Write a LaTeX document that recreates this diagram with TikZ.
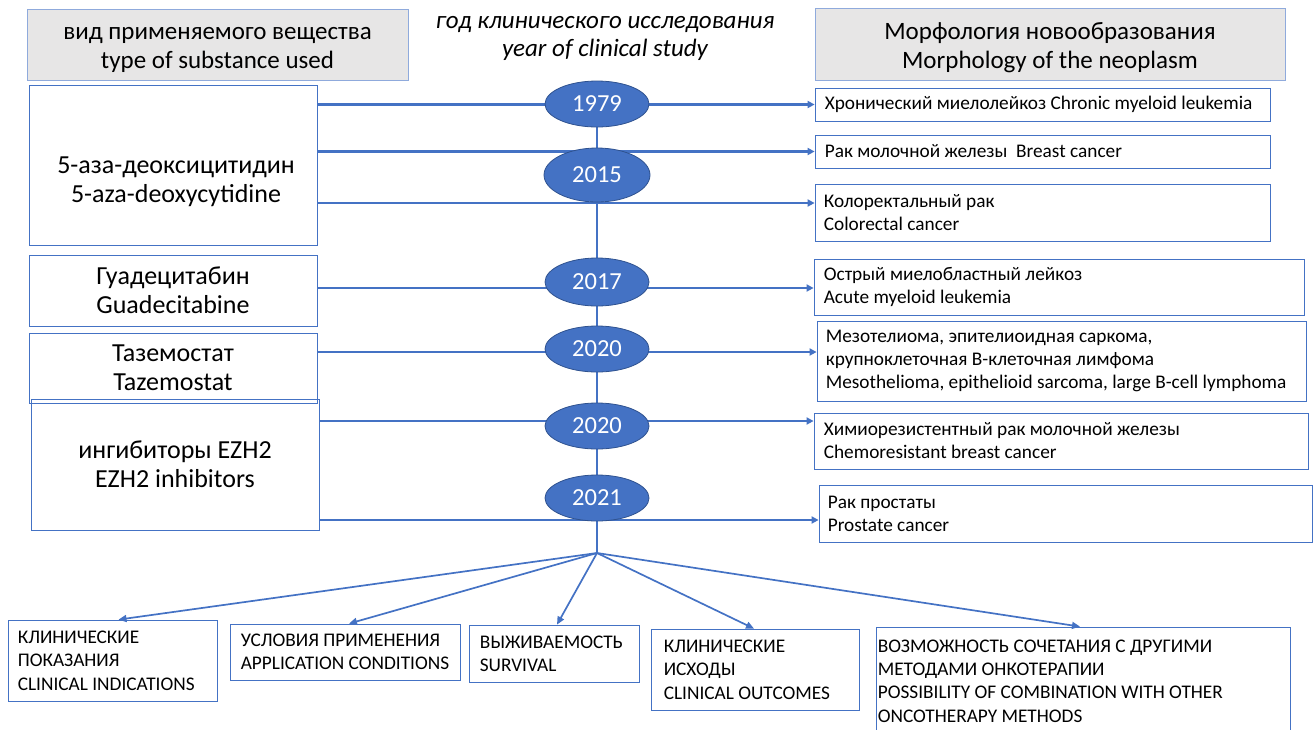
\documentclass[tikz,border=0pt]{standalone}
\usepackage{fontspec}
\setmainfont{Carlito}
\usetikzlibrary{arrows.meta,shapes.geometric,calc}
\pgfdeclarelayer{bg}
\pgfsetlayers{bg,main}
\definecolor{office}{HTML}{4472C4}
\definecolor{officedark}{HTML}{2F528F}
\definecolor{headgray}{HTML}{E7E6E6}
\definecolor{headline}{HTML}{8FAADC}
\tikzset{
  headbox/.style={draw=headline, fill=headgray, line width=1pt, inner sep=0pt},
  headtext/.style={inner sep=0pt, align=center, font=\fontsize{25}{29}\selectfont},
  drugbox/.style={draw=office, line width=0.8pt, inner sep=0pt, align=center,
    font=\fontsize{26}{29}\selectfont},
  drugtext/.style={inner sep=0pt, align=center, font=\fontsize{26}{29}\selectfont},
  framebox/.style={draw=office, line width=0.8pt, inner sep=0pt},
  diagtext/.style={anchor=west, inner sep=0pt, align=left, font=\fontsize{19.3}{23}\selectfont},
  outtext/.style={anchor=west, inner sep=0pt, align=left, font=\fontsize{19.3}{23.3}\selectfont},
  yearnode/.style={ellipse, draw=officedark, fill=office, line width=0.8pt,
    text=white, minimum width=104pt, minimum height=46pt, inner sep=0pt,
    font=\fontsize{24.5}{26}\selectfont},
  link/.style={draw=office, line width=2.4pt},
  feed/.style={link, -{Triangle[length=7pt,width=7pt]}},
  spread/.style={draw=office, line width=1.7pt, -{Triangle[length=8pt,width=7pt]}},
}
\begin{document}
\begin{tikzpicture}[x=1pt,y=-1pt]
\useasboundingbox (0,0) rectangle (1316,729);

% column headers
\node[headbox, minimum width=381pt, minimum height=71pt] (hleft) at (217.5,44.5) {};
\node[headtext] (hlefttext) at ([yshift=-5pt]hleft.center)
  {вид применяемого вещества\\type of substance used};
\node[headbox, minimum width=470pt, minimum height=72pt] (hright) at (1050,44) {};
\node[headtext] (hrighttext) at ([yshift=-4pt]hright.center)
  {Морфология новообразования\\Morphology of the neoplasm};
\node[align=center, inner sep=0pt, font=\fontsize{25}{28}\selectfont\itshape] (title) at (605,38)
  {год клинического исследования\\year of clinical study};

% substances
\node[drugbox, minimum width=288pt, minimum height=160pt] (aza) at (173,165) {};
\node[drugtext] (azatext) at ([xshift=3pt,yshift=-17pt]aza.center)
  {5-аза-деоксицитидин\\5-aza-deoxycytidine};
\node[drugbox, minimum width=288pt, minimum height=71pt] (guad) at (173,290.5)
  {Гуадецитабин\\Guadecitabine};
\node[drugbox, minimum width=288pt, minimum height=70pt] (taz) at (173,368)
  {Таземостат\\Tazemostat};
\node[drugbox, minimum width=288pt, minimum height=131pt] (ezh) at (175,464.5)
  {ингибиторы EZH2\\EZH2 inhibitors};

% neoplasms: frames, then their texts
\node[framebox, minimum width=455pt, minimum height=33pt] (r1) at (1042.5,104.5) {};
\node[framebox, minimum width=455pt, minimum height=33pt] (r2) at (1042.5,151.5) {};
\node[framebox, minimum width=455pt, minimum height=57pt] (r3) at (1042.5,212.5) {};
\node[framebox, minimum width=490pt, minimum height=56pt] (r4) at (1059,287) {};
\node[framebox, minimum width=489pt, minimum height=80pt] (r5) at (1061.5,361) {};
\node[framebox, minimum width=494pt, minimum height=56pt] (r6) at (1061,441) {};
\node[framebox, minimum width=493pt, minimum height=57pt] (r7) at (1065.5,513.5) {};
\node[diagtext] (r1t) at ([xshift=10pt]r1.west)
  {Хронический миелолейкоз Chronic myeloid leukemia};
\node[diagtext] (r2t) at ([xshift=10pt]r2.west)
  {Рак молочной железы\ \ Breast cancer};
\node[diagtext] (r3t) at ([xshift=9pt]r3.west)
  {Колоректальный рак\\Colorectal cancer};
\node[diagtext] (r4t) at ([xshift=10pt]r4.west)
  {Острый миелобластный лейкоз\\Acute myeloid leukemia};
\node[diagtext] (r5t) at ([xshift=9pt]r5.west)
  {Мезотелиома, эпителиоидная саркома,\\крупноклеточная В-клеточная лимфома\\Mesothelioma, epithelioid sarcoma, large B-cell lymphoma};
\node[diagtext] (r6t) at ([xshift=10pt]r6.west)
  {Химиорезистентный рак молочной железы\\Chemoresistant breast cancer};
\node[diagtext] (r7t) at ([xshift=9pt]r7.west)
  {Рак простаты\\Prostate cancer};

% years on the time axis
\node[yearnode] (y1979) at (597,104) {1979};
\node[yearnode, minimum width=106pt, minimum height=54pt] (y2015) at (597,175) {2015};
\node[yearnode, minimum height=48pt] (y2017) at (597,282) {2017};
\node[yearnode] (y2020a) at (597,349) {2020};
\node[yearnode] (y2020b) at (597,426) {2020};
\node[yearnode] (y2021) at (597,498) {2021};
\coordinate (hub) at (597,553);

% row levels of the feed lines
\coordinate (lv3) at (0,203);
\coordinate (lv4) at (0,288);
\coordinate (lv5) at (0,352);
\coordinate (lv6) at (0,421);
\coordinate (lv7) at (0,520);

% outcomes: frames, then their texts
\node[framebox, minimum width=209pt, minimum height=81pt] (oind) at (112.5,660.5) {};
\node[framebox, minimum width=230pt, minimum height=56pt] (ocond) at (345,652) {};
\node[framebox, minimum width=170pt, minimum height=57pt] (osurv) at (554,653.5) {};
\node[framebox, minimum width=208pt, minimum height=81pt] (oout) at (755,669.5) {};
\node[framebox, minimum width=414pt, minimum height=108pt] (ocomb) at (1083,681) {};
\node[outtext] (oindt) at ([xshift=10pt]oind.west)
  {КЛИНИЧЕСКИЕ\\ПОКАЗАНИЯ\\CLINICAL INDICATIONS};
\node[outtext] (ocondt) at ([xshift=11pt]ocond.west)
  {УСЛОВИЯ ПРИМЕНЕНИЯ\\APPLICATION CONDITIONS};
\node[outtext] (osurvt) at ([xshift=11pt]osurv.west)
  {ВЫЖИВАЕМОСТЬ\\SURVIVAL};
\node[outtext] (ooutt) at ([xshift=13pt]oout.west)
  {КЛИНИЧЕСКИЕ\\ИСХОДЫ\\CLINICAL OUTCOMES};
\node[outtext] (ocombt) at ([xshift=2pt]ocomb.west)
  {ВОЗМОЖНОСТЬ СОЧЕТАНИЯ С ДРУГИМИ\\МЕТОДАМИ ОНКОТЕРАПИИ\\POSSIBILITY OF COMBINATION WITH OTHER\\ONCOTHERAPY METHODS};

\begin{pgfonlayer}{bg}
  % time axis
  \draw[link] (y1979.center) -- (hub);
  % substance -> neoplasm feeds
  \draw[feed] (aza.east |- r1.west) -- (r1.west);
  \draw[feed] (aza.east |- r2.west) -- (r2.west);
  \draw[feed] (aza.east |- lv3) -- (r3.west |- lv3);
  \draw[feed] (guad.east |- lv4) -- (r4.west |- lv4);
  \draw[feed] (taz.east |- lv5) -- (r5.west |- lv5);
  \draw[feed] (ezh.east |- lv6) -- (r6.west |- lv6);
  \draw[feed] (ezh.east |- lv7) -- (r7.west |- lv7);
\end{pgfonlayer}

% fan-out to outcomes
\draw[spread] (hub) -- ([xshift=6pt]oind.north);
\draw[spread] (hub) -- ([xshift=4pt]ocond.north);
\draw[spread] (hub) -- ([xshift=3pt]osurv.north);
\draw[spread] (hub) -- ([xshift=-1pt]oout.north);
\draw[spread] (hub) -- ([xshift=-3pt]ocomb.north);
\end{tikzpicture}
\end{document}
